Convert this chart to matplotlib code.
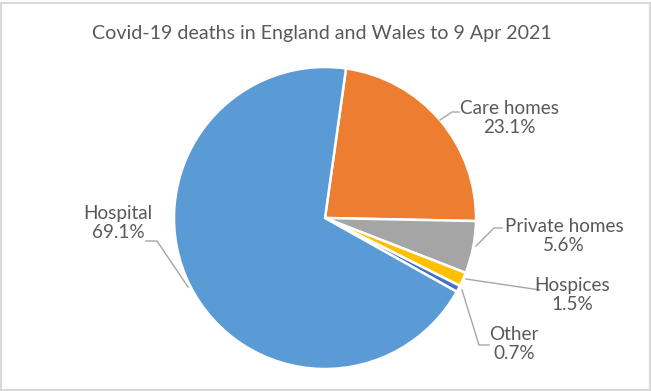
import matplotlib
matplotlib.use('Agg')
import matplotlib.pyplot as plt
from matplotlib.patches import Rectangle

# Covid-19 deaths by place of death, England and Wales to 9 Apr 2021
places = ['Care homes', 'Private homes', 'Hospices', 'Other', 'Hospital']
shares = [23.1, 5.6, 1.5, 0.7, 69.1]
colors = ['#ED7D31', '#A5A5A5', '#FFC000', '#4472C4', '#5B9BD5']

W, H = 651, 391
plt.rcParams['font.family'] = ['Lato', 'DejaVu Sans']
text_col = '#595959'
line_col = '#A6A6A6'

fig = plt.figure(figsize=(W / 100, H / 100), dpi=100)
ax = fig.add_axes([0, 0, 1, 1])
ax.axis('off')

# pie in pixel units (y flipped so we can read positions off the picture)
cx, cy, r = 325, 218, 151
ax.pie(shares, colors=colors, startangle=82, counterclock=False,
       center=(cx, H - cy), radius=r,
       wedgeprops={'edgecolor': 'white', 'linewidth': 1.8})
ax.set_xlim(0, W)
ax.set_ylim(0, H)
ax.set_aspect('auto')

# label positions and leader lines (pixel coords)
label_pos = [(509, 118), (564, 236), (572, 295), (514, 344), (118, 223)]
leaders = [
    [(440, 120), (452, 112), (459, 112)],
    [(476, 246), (494, 228), (502, 228)],
    [(466, 279), (540, 290)],
    [(462, 290), (479, 345), (489, 345)],
    [(188, 287), (157, 241), (146, 241)],
]

for name, val, (lx, ly), pts in zip(places, shares, label_pos, leaders):
    xs = [p[0] for p in pts]
    ys = [H - p[1] for p in pts]
    ax.plot(xs, ys, color=line_col, lw=1)
    ax.text(lx, H - ly, f'{name}\n{val}%', ha='center', va='center',
            fontsize=13.6, color=text_col, linespacing=1.2)

ax.text(322, H - 33, 'Covid-19 deaths in England and Wales to 9 Apr 2021',
        ha='center', va='center', fontsize=14.1, color=text_col)

# chart frame
ax.add_patch(Rectangle((0.5, 1), W - 2, H - 3.5, fill=False,
                       edgecolor='#D9D9D9', lw=1.5))

fig.savefig('out.png', dpi=100)
